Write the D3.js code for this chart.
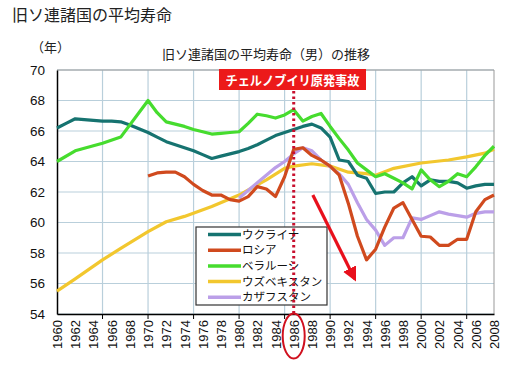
<!DOCTYPE html>
<html>
<head>
<meta charset="utf-8">
<script src="https://cdn.jsdelivr.net/npm/d3@7"></script>
<style>
  body { margin: 0; background: #fff; }
  text { font-family: "Liberation Sans", Arial, sans-serif; }
  .jp { font-family: "Noto Sans CJK JP", sans-serif; }
</style>
</head>
<body>
<div id="chart"></div>
<script>
// years 1960..2008
var years = d3.range(1960, 2009);
var yTicks = [54, 56, 58, 60, 62, 64, 66, 68, 70];

var ukraine = [66.2, 66.5, 66.8, 66.75, 66.7, 66.65, 66.65, 66.6, 66.4, 66.15,
  65.9, 65.6, 65.3, 65.1, 64.9, 64.7, 64.45, 64.2, 64.35, 64.5,
  64.65, 64.85, 65.1, 65.4, 65.7, 65.9, 66.1, 66.3, 66.45, 66.2,
  65.6, 64.1, 64.0, 63.1, 62.9, 61.9, 62.0, 62.0, 62.6, 63.0,
  62.4, 62.8, 62.7, 62.7, 62.6, 62.25, 62.4, 62.5, 62.5];

var russia = [null, null, null, null, null, null, null, null, null, null,
  63.05, 63.25, 63.3, 63.3, 63.0, 62.5, 62.1, 61.8, 61.8, 61.5,
  61.4, 61.7, 62.35, 62.2, 61.7, 63.0, 64.8, 64.9, 64.4, 64.1,
  63.7, 63.1, 61.25, 59.1, 57.55, 58.25, 59.7, 60.95, 61.3, 60.2,
  59.1, 59.05, 58.5, 58.5, 58.9, 58.9, 60.7, 61.5, 61.8];

var belarus = [64.0, null, 64.7, null, null, 65.2, null, 65.6, null, null,
  68.0, 67.2, 66.6, 66.45, 66.3, 66.1, 65.95, 65.8, 65.85, 65.9,
  65.95, 66.5, 67.1, 67.0, 66.85, 67.05, 67.4, 66.65, 66.95, 67.15,
  66.3, 65.5, 64.75, 63.9, 63.45, 63.0, 63.2, 62.9, 62.6, 62.2,
  63.45, 62.8, 62.35, 62.7, 63.2, 63.0, 63.65, 64.4, 65.0];

var uzbekistan = [55.5, null, 56.3, null, null, 57.55, null, 58.3, null, null,
  59.4, null, 60.05, null, 60.4, null, null, 61.05, null, null,
  61.8, null, null, 62.8, null, 63.55, 63.7, null, 63.85, null,
  63.7, null, 63.3, null, 63.2, 63.1, null, 63.55, null, null,
  63.9, null, null, 64.1, null, 64.3, null, 64.55, 64.8];

var kazakhstan = [null, null, null, null, null, null, null, null, null, null,
  null, null, null, null, null, null, null, null, null, null,
  61.6, null, 62.6, null, 63.6, 64.0, 64.5, 64.9, 64.7, 64.1,
  63.65, 63.2, 62.5, 61.3, 60.2, 59.5, 58.5, 59.0, 59.0, 60.3,
  60.2, 60.45, 60.7, 60.55, 60.45, 60.35, 60.6, 60.7, 60.7];

var seriesNames = ["ウクライナ", "ロシア", "ベラルーシ", "ウズベキスタン", "カザフスタン"];
var seriesValues = [ukraine, russia, belarus, uzbekistan, kazakhstan];
var seriesColors = ["#167370", "#d04a1e", "#46dc2e", "#f2c72e", "#bb9fe8"];
// drawing order: back to front
var drawOrder = [3, 4, 0, 2, 1];

var accidentYear = 1986;
var accidentLabel = "チェルノブイリ原発事故";
var arrowFrom = [1988.1, 61.8], arrowTo = [1992.7, 56.3];

var W = 520, H = 367;
var margin = {top: 70, right: 26, bottom: 53, left: 57};

var svg = d3.select("#chart").append("svg")
    .attr("width", W).attr("height", H);

var x = d3.scaleLinear().domain([1960, 2008]).range([margin.left, W - margin.right]);
var y = d3.scaleLinear().domain([54, 70]).range([H - margin.bottom, margin.top]);

// titles
svg.append("text").attr("class", "jp")
    .attr("x", 12).attr("y", 21)
    .style("font-size", "16px").attr("fill", "#222")
    .text("旧ソ連諸国の平均寿命");
svg.append("text").attr("class", "jp")
    .attr("x", 31).attr("y", 52)
    .style("font-size", "13px").attr("fill", "#222")
    .text("（年）");
svg.append("text").attr("class", "jp")
    .attr("x", 266).attr("y", 59).attr("text-anchor", "middle")
    .style("font-size", "13px").attr("fill", "#222")
    .text("旧ソ連諸国の平均寿命（男）の推移");

// grid
svg.append("g").selectAll("line").data(yTicks).join("line")
    .attr("x1", x(1960)).attr("x2", x(2008))
    .attr("y1", d => y(d)).attr("y2", d => y(d))
    .attr("stroke", "#b9cfdb").attr("stroke-width", 1.2);
var vGrid = d3.range(1965, 2008, 5);
svg.append("g").selectAll("line").data(vGrid).join("line")
    .attr("x1", d => x(d)).attr("x2", d => x(d))
    .attr("y1", y(54)).attr("y2", y(70))
    .attr("stroke", "#b9cfdb").attr("stroke-width", 1.2);

// frame
svg.append("path")
    .attr("d", "M" + x(1960) + "," + y(70) + "H" + x(2008) + "V" + y(54))
    .attr("fill", "none").attr("stroke", "#999");

// axes
var yAxis = svg.append("g")
    .attr("transform", "translate(" + x(1960) + ",0)")
    .call(d3.axisLeft(y).tickValues(yTicks).tickSize(0).tickPadding(12).tickFormat(d3.format("d")));
yAxis.select(".domain").attr("stroke", "#000").attr("stroke-width", 1.5);
yAxis.selectAll("text").style("font-size", "13.5px").attr("fill", "#111");

var xAxis = svg.append("g")
    .attr("transform", "translate(0," + y(54) + ")")
    .call(d3.axisBottom(x).tickValues(d3.range(1960, 2009, 2)).tickSize(0).tickFormat(d3.format("d")));
xAxis.select(".domain").attr("stroke", "#000").attr("stroke-width", 1.5);
xAxis.selectAll("text")
    .attr("transform", "rotate(-90)")
    .attr("text-anchor", "end")
    .attr("x", -6).attr("y", 0).attr("dy", "0.35em")
    .style("font-size", "13px").attr("fill", "#111");
svg.append("g").selectAll("line").data(vGrid).join("line")
    .attr("x1", d => x(d)).attr("x2", d => x(d))
    .attr("y1", y(54)).attr("y2", y(54) + 5)
    .attr("stroke", "#000");

// series lines
var line = d3.line().x(d => x(d.year)).y(d => y(d.value));
drawOrder.forEach(function (i) {
  var pts = years.map((yr, k) => ({year: yr, value: seriesValues[i][k]}))
                 .filter(d => d.value != null);
  svg.append("path").datum(pts)
      .attr("d", line)
      .attr("fill", "none")
      .attr("stroke", seriesColors[i])
      .attr("stroke-width", 3.2)
      .attr("stroke-linejoin", "round");
});

// legend
var lg = svg.append("g").attr("transform", "translate(196,227)");
lg.append("rect").attr("width", 131).attr("height", 78)
    .attr("fill", "#fff").attr("stroke", "#333").attr("stroke-width", 1.2);
seriesNames.forEach(function (name, i) {
  var ly = 7.5 + i * 15.7;
  lg.append("line").attr("x1", 12).attr("x2", 45).attr("y1", ly).attr("y2", ly)
      .attr("stroke", seriesColors[i]).attr("stroke-width", 3.5);
  lg.append("text").attr("class", "jp")
      .attr("x", 46).attr("y", ly).attr("dy", "0.36em")
      .style("font-size", "11.5px").attr("fill", "#111")
      .text(name);
});

// accident marker
svg.append("line")
    .attr("x1", x(accidentYear)).attr("x2", x(accidentYear))
    .attr("y1", 91).attr("y2", y(54))
    .attr("stroke", "#c8102e").attr("stroke-width", 3)
    .attr("stroke-dasharray", "2.5,3");
svg.append("rect")
    .attr("x", 219).attr("y", 69).attr("width", 147).attr("height", 21)
    .attr("fill", "#ec1a1a");
svg.append("text").attr("class", "jp")
    .attr("x", 292.5).attr("y", 84.5).attr("text-anchor", "middle")
    .attr("textLength", 134).attr("lengthAdjust", "spacingAndGlyphs")
    .style("font-size", "13px").style("font-weight", "bold").attr("fill", "#fff")
    .text(accidentLabel);
svg.append("ellipse")
    .attr("cx", x(accidentYear)).attr("cy", 336).attr("rx", 11).attr("ry", 22.5)
    .attr("fill", "none").attr("stroke", "#d0101e").attr("stroke-width", 2);

// arrow
svg.append("defs").append("marker")
    .attr("id", "ah").attr("viewBox", "0 0 10 10")
    .attr("refX", 8).attr("refY", 5)
    .attr("markerWidth", 4.5).attr("markerHeight", 4.5)
    .attr("orient", "auto")
  .append("path").attr("d", "M0,0L10,5L0,10Z").attr("fill", "#e8101c");
svg.append("line")
    .attr("x1", x(arrowFrom[0])).attr("y1", y(arrowFrom[1]))
    .attr("x2", x(arrowTo[0])).attr("y2", y(arrowTo[1]))
    .attr("stroke", "#e8101c").attr("stroke-width", 3.2)
    .attr("marker-end", "url(#ah)");
</script>
</body>
</html>
